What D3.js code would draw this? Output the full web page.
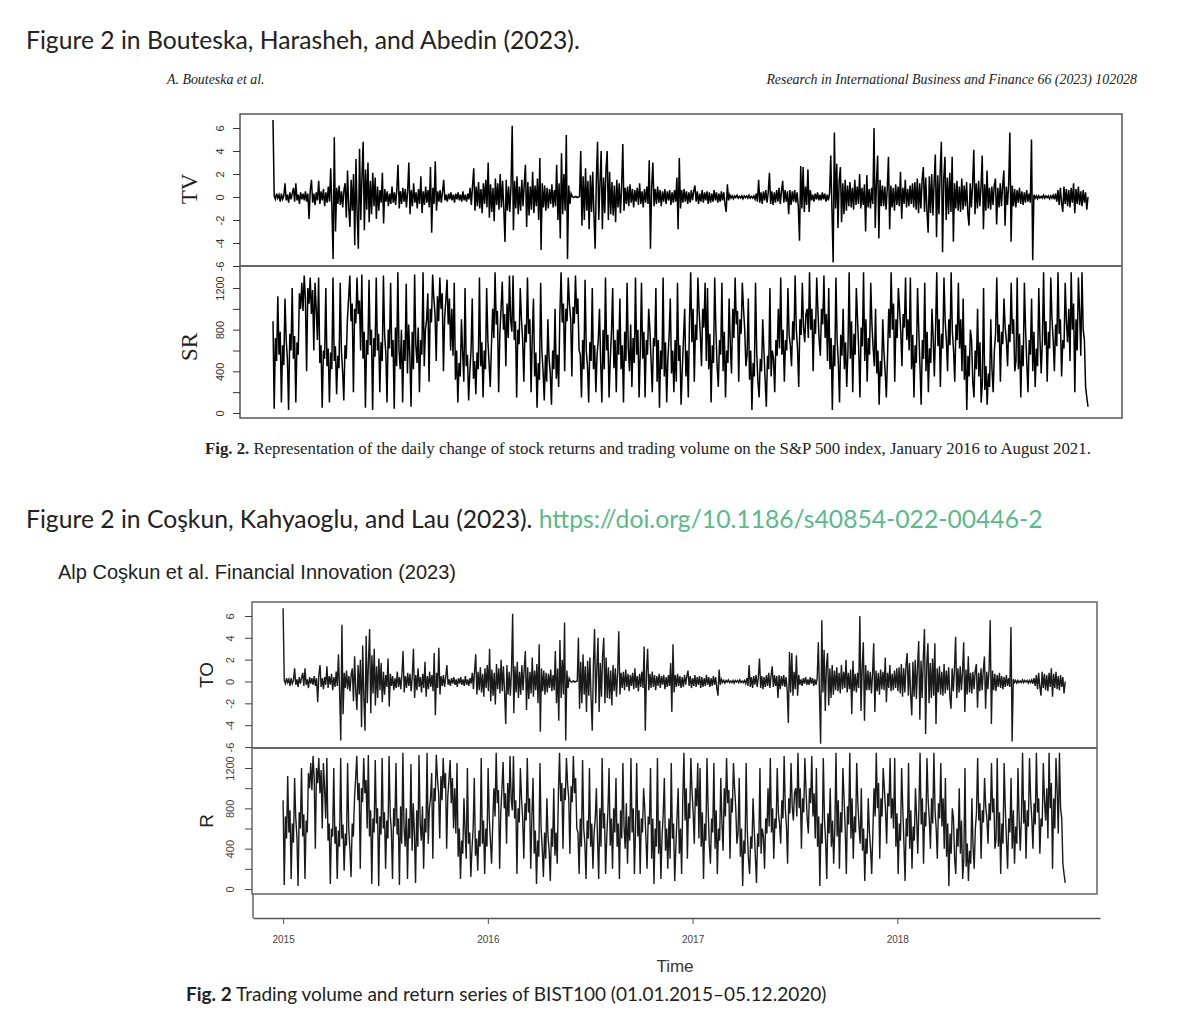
<!DOCTYPE html>
<html>
<head>
<meta charset="utf-8">
<script src="https://cdn.jsdelivr.net/npm/d3@7"></script>
<style>
  body { margin: 0; background: #fff; }
</style>
</head>
<body>
<script>
// daily change in trading volume (the same series appears in both figures)
const tvValues = [
  6.7, 0.1, -0.2, 0.3, -0.1, 0.2, -0.4, 0.3, -0.2, 0.1, 1.2, -0.3, 0.2, -0.5, 0.4, -0.2, 0.3, 0.8, -0.4, 1.2,
  -0.3, 0.2, -0.6, 0.4, -0.2, 0.3, -0.3, 0.5,
  -0.4, 0.3, -1.9, 0.6, 1.5, -0.5, 0.3, -0.7, 0.4, -0.3, 1.4, -0.6, 0.5, -0.3, 0.7, -0.8, 0.4, -0.5, 0.9, -0.4,
  2.5, -1.0, -5.4, 5.2, -3.0, 0.8, -0.6, 1.0, -0.7, 0.5, -0.9, 0.6,
  1.2, -1.8, 2.3, -0.9, -2.6, 1.5, -1.2, 2.0, -4.2, 3.3, -1.5, -4.5, 4.2, -2.0, 1.8, 4.8, -2.9, 2.4, -1.1, 3.0,
  -2.2, 1.4, -1.5, 2.1, -0.8, 1.7, -1.9, 0.9, -1.2,
  0.6, -0.5, 2.1, -2.3, 0.7, -0.4, 0.5, -0.8, 0.3, -0.6, 0.9, -0.5, 0.4, -0.7, 0.6, 2.8, -1.0, 0.5, -0.6, 0.8,
  -0.4, 0.7, -0.9, 0.5, 3.0, -1.5, 0.6, -0.8, 1.2, -0.5, 0.4, -1.0, 0.7, -0.6, 1.8, -1.4, 0.5, -0.7, 0.9, -0.5,
  0.6, -0.9, 2.6, -3.1, 0.8, -0.6, 3.1, -1.2, 0.5, -0.4, 0.6, -0.5, 0.4, 1.5,
  -0.3, 0.2, -0.4, 0.3, -0.2, 0.4, -0.3, 0.2, -0.5, 0.3, -0.2, 0.4, -0.3, 0.2, -0.4, 0.5, -0.3, 0.2, -0.4, 0.3, -0.2,
  0.8, -0.7, 1.0, 2.5, -1.2, 0.9, -0.8, 1.3, -1.0, 0.7, -1.4, 1.2, -0.6, 1.5, -0.9, 3.0, -1.8, 1.1, -1.3, 0.8,
  -2.1, 1.6, -0.7, 1.2, -1.1, 2.0, -0.9, 1.4, -1.0, -3.9, 1.5, -1.2, 0.9, -1.3, 1.0,
  6.2, -2.9, 1.4, -1.0, 1.8, -1.5, 0.9,
  -1.2, 1.5, -0.8, 1.1, 2.8, -2.6, 1.3, -1.6, 0.9, -1.1, 2.2, -1.4, 1.0, -0.8, 1.6, -2.0, 3.4, -4.6, 1.2, -0.9,
  1.0, -1.2, 0.8, -1.0, 0.7, -0.6, 1.1, -0.9, 0.6, -0.8,
  2.8, -2.0, 1.2, -3.6, 3.8, -1.5, 2.0, -1.2, 5.4, -5.4, 1.0, -0.6, 0.3,
  0.05, -0.05, 0.0, 0.05, -0.05, 0.0, 0.05,
  4.0, -2.5, 1.8, -2.0, 2.5, -1.2, 1.4, -2.8, 1.9, -1.3, 2.2, -1.6, -4.5, 1.5, 4.8, -2.0, 1.2, 4.0, -2.8, 1.7,
  -1.4, 2.4, 4.0, -2.0, 2.2, -1.5, 1.3, -1.6, 1.0, -2.2, 1.5, -0.9, 1.2, -1.4, 0.8, 4.6, -1.2,
  0.8, -0.6, 0.9, -0.8, 1.1, -0.5, 0.7, -0.9, 0.6, -0.4, 0.8, -0.7, 1.2, -0.6, 0.5, -0.9, 0.7, -0.5, 0.9, -0.6,
  3.2, -4.5, 0.8, 3.0, -0.8, 0.7, -0.6, 0.9, -0.5, 0.6, -0.8, 0.5, -0.4, 0.7, -0.6, 0.5, -0.3, 0.6, -0.7, 0.4,
  -0.5, 0.6, -0.4, 1.7, -2.8, 3.4,
  -1.0, 0.6, -0.5, 0.7, -0.4, 0.5, -0.6, 0.4, -0.5, 0.6, -0.3, 0.5, 1.0, -0.4, 0.5, -0.6, 0.3, -0.4, 0.6, -0.5,
  0.4, -0.3, 0.5, -0.6, 0.4, -0.5, 0.3, -0.4, 0.6, -0.3, 0.4, -0.5, 0.3, -0.4, 0.5, -0.3, 0.4, -0.6, -1.3, 1.1,
  -0.3, 0.2,
  -0.1, 0.1, -0.15, 0.1, -0.05, 0.15, -0.1, 0.05, -0.1, 0.1, -0.15, 0.1, -0.05, 0.1, -0.1, 0.15, -0.1, 0.05, -0.1, 0.1, -0.2,
  0.3, -0.4, 1.5, -0.5, 0.4, -0.6, 0.5, -0.3, 0.6, -0.5, 0.4, 2.1, -0.6, 0.5, -0.7, 0.4, -0.5, 0.6, -0.4, 0.8,
  -0.6, 0.5, 1.4, -0.5, 0.6, -0.4, 0.5, -1.5, 0.6, -0.7, 0.5, -0.4, 0.6, -0.5, 0.4,
  -0.8, -3.8, 2.7, -1.0, 2.6, -1.3, 0.9, -0.7, 2.4, -1.3, 0.6,
  -0.3, 0.2, -0.4, 0.3, -0.2, 0.4, -0.3, 0.2, -0.3, 0.4, -0.2, 0.3, -0.4, 0.2, -0.3, 0.3,
  3.6, -1.2, -5.7, 5.6, -1.0,
  2.9, -2.7, 1.4, 2.6, -2.2, 1.2, -1.5, 1.5, -1.2, 1.0, -0.8, 1.3, -0.9, 0.8, -1.1, 1.5, -0.7, 0.9, -0.6, 2.0,
  -1.0, 0.8, -0.7, 1.1, -3.0, 1.9, -0.9, 0.7, -1.0, 0.8, -0.6,
  6.0, -2.7, 1.2, 3.6, -3.6, 1.5, -0.8,
  1.0, -0.8, 0.9, -1.1, 0.7, 3.5, -2.8, 1.0, -0.9, 0.8, -1.2, 1.1, -0.7, 0.9, -0.8, 2.2, -1.9, 0.8, -0.6, 1.5,
  -0.9, 0.7, -0.8, 1.0, -0.6, 1.2, -0.9,
  1.3, -1.1, 1.6, -1.4, 1.2, -1.0, 1.5, 2.6, -1.3, 1.7, -1.2, -3.1, 1.8, -1.4, 2.0, -1.6, 1.3, 3.7, -3.5, 1.9,
  -1.5, 2.2, 4.8, -4.8, 1.6, 3.5, -2.0, 1.7, -1.5, 2.1, -1.3, 3.5, -3.9,
  1.2, -1.0, 1.4, -1.2, 0.9, -1.3, 1.6, -1.1, 1.0, -0.8, 1.3, -1.4, -2.5, 1.2, -0.9, 1.1, 4.1, -1.5, 1.2, -1.0,
  1.4, -0.8, 0.9, 3.6, -2.8, 1.1, -1.2, 2.3,
  -1.0, 0.8, -1.1, 0.9, -0.7, 1.0, 1.6, -2.4, 0.8, -0.9, 1.2, -0.8, 1.0, 2.3, -2.5, 0.9, -0.7, 1.1,
  5.6, -3.9, 1.0,
  -0.8, 0.7, -0.9, 0.6, -0.5, 0.8, -0.6, 0.5, -0.7, 0.4, -0.5, 0.6, -0.4, 0.3, -0.5,
  5.0, -5.5, 0.2,
  -0.1, 0.1, -0.15, 0.1, -0.1, 0.05, -0.1, 0.15, -0.1, 0.1, -0.05, 0.1, -0.15, 0.1, -0.1, 0.15, -0.2, 0.3, -0.4,
  0.6, -0.7, 0.8, -0.5, -1.3, 0.9, -0.6, 0.7, -0.8, 0.6, -0.9, 0.8, -0.5, 1.2, -1.4, 0.7, -0.6, 0.9, -0.7, 0.5,
  -0.8, 0.6, -0.5, 0.4, -1.1, 0.0
];

// stock return series
const srValues = [
  880, 40, 720, 500, 1120, 560, 780, 100, 650, 460, 1100, 700, 520, 30, 760, 600,
  1200, 520, 740, 100, 680, 560, 1150,
  1000, 1250, 980, 1320, 1100, 400, 1200, 1050, 1300, 950, 1180, 600, 1250, 1000,
  700, 1300, 480, 650, 50, 600, 520, 1200,
  450, 620, 100, 580, 420, 1300, 500, 640, 180, 550, 430, 1250, 600, 400, 120, 650, 520,
  900, 1100, 1320, 880, 1050, 200, 1000, 860, 1300, 950, 1080,
  600, 1330, 520, 780, 50, 700, 560, 1280, 650, 800, 30, 720, 540, 1300, 600, 760, 200, 680, 500, 1320,
  740, 580, 100, 800, 620, 1250, 540,
  700, 40, 820, 450, 1350, 600, 420, 800, 100, 700, 500, 1240, 380, 850, 550, 60, 780, 420, 1330, 650,
  480, 820, 200, 700, 560, 1350, 450, 800,
  900, 1150, 300, 1000, 870, 1330, 1100, 950, 500, 1120, 880, 1300, 1000, 1150, 400, 920, 1080, 1280, 850, 1100,
  600, 1000,
  550, 1250, 320, 600, 100, 480, 350, 900, 580, 300, 1200, 450, 560, 120, 400, 600, 1100, 330, 500, 180,
  580, 420,
  1300, 450, 680, 150, 600, 420, 1200, 700, 480, 250, 650,
  1000, 720, 1350, 850, 980, 200, 760, 1000, 1260, 800, 950, 450, 1050, 720, 1320, 900, 780,
  1320, 700, 880, 150, 800, 660, 1200, 900, 700, 300, 850, 680, 1300, 760, 900, 200, 720,
  1100, 350, 580, 50, 480, 320, 1250, 600, 400, 120, 560, 300, 900, 520, 380, 80, 600, 420, 1000, 330,
  560, 250,
  950, 1350, 870, 1050, 400, 1000, 880, 1300, 1040, 900, 350, 1020, 860, 1320, 950, 1100, 600,
  560, 150, 700, 420, 1280, 600, 450, 100, 680, 500, 1200, 420, 650, 200, 560, 700, 1000,
  480, 100, 800, 420, 1300, 600, 750, 150, 520, 780, 1200, 430, 700, 200, 800, 560, 1100, 420, 650, 100,
  780, 500, 1250, 620, 400, 850, 250, 720, 480, 1300, 560, 800, 150,
  600, 1250, 520, 780, 150, 700, 560, 1000, 800, 500, 200, 720, 640, 1200,
  300, 700, 50, 600, 420, 1300, 350, 680, 100, 520, 740, 1100, 380, 600, 200, 700, 300, 1250, 500, 650,
  80, 420, 720, 1000, 350, 600, 150,
  900, 1350, 680, 1000, 300, 850, 700, 1300, 980, 760, 450, 1000, 820, 1250,
  500, 1200, 420, 760, 100, 650, 480, 1300, 800, 450, 250, 700, 560, 1250, 400, 780, 150, 600, 480, 1100,
  650, 380,
  1000, 720, 1300, 850, 980, 300, 900, 760, 1250, 1000, 800, 450,
  560, 1100, 320, 600, 30, 480, 350, 1250, 580, 300, 150, 520, 400, 900, 600, 320, 60, 550, 420, 1200,
  350, 600,
  520, 200, 700, 550, 1000, 620, 1300, 560, 800, 300, 700, 600, 1200, 750, 650, 450, 880, 700, 1320, 800,
  620, 250, 900, 750, 1250, 820, 680, 950,
  1000, 720, 1350, 800, 1000, 400, 900, 760, 1300, 980, 700, 550, 1000, 850, 1320, 720, 950,
  500, 1200, 420, 720, 30, 650, 450, 1300, 700, 480, 100, 750, 550, 1000, 420, 680, 250,
  600, 1350, 520, 880, 200, 760, 560, 1200, 900, 600, 150, 820, 640, 1350, 500, 900, 300, 720, 560, 1250,
  850, 620,
  450, 1000, 380, 600, 80, 500, 350, 900, 580, 400, 150, 550,
  1000, 720, 1350, 800, 1050, 300, 900, 720, 1200, 1000, 780, 450, 950, 820, 1300, 700, 900,
  600, 1300, 420, 750, 150, 650, 480, 1200, 800, 450, 80, 700, 520, 1250, 400, 780, 200, 620, 480, 1000,
  720, 350,
  800, 1350, 640, 900, 250, 760, 620, 1300, 880, 700, 400, 900, 650, 1350, 780, 600, 300, 850, 700, 1250,
  620, 900,
  400, 1100, 320, 650, 30, 550, 350, 800, 700, 300, 150, 600, 420, 1000, 350, 680, 100,
  300, 1200, 220, 450, 80, 380, 250, 900, 420, 200, 600,
  760, 1300, 680, 850, 300, 780, 660, 1100, 820, 700, 450, 850, 680, 1250, 760, 900, 400,
  500, 1300, 420, 760, 150, 650, 450, 1250, 800, 480, 200, 700, 560, 1100, 400, 780, 250, 620, 450, 1200,
  700, 380,
  700, 1350, 650, 880, 300, 780, 620, 1300, 900, 700, 400, 850, 640, 1350, 760, 900, 350, 700, 620, 1250,
  880, 680,
  1000, 500, 1350, 800, 1050, 200, 900, 600, 1300, 980, 550, 1350, 800,
  700, 250, 150, 60
];

const tvTicks = [-6, -4, -2, 0, 2, 4, 6];
const srTicks = [0, 200, 400, 600, 800, 1000, 1200];
const srLabelled = [0, 400, 800, 1200];
const yearTicks = [2015, 2016, 2017, 2018];
const seriesStart = 2015.0;
const seriesEnd = 2018.82;
const axisStart = 2014.853;
const axisEnd = 2018.99;

const width = 1200;
const height = 1021;

const svg = d3.select('body')
    .append('svg')
    .attr('width', width)
    .attr('height', height);

const drawSeries = (g, values, range, y, color, strokeWidth) => {
    const x = d3.scaleLinear().domain([0, values.length - 1]).range(range);
    g.append('path')
        .datum(values)
        .attr('fill', 'none')
        .attr('stroke', color)
        .attr('stroke-width', strokeWidth)
        .attr('d', d3.line().x((d, i) => x(i)).y(d => y(d)));
};

const drawYAxis = (g, y, ticks, labelled, left, labelGap, fontSize, color) => {
    const axis = g.append('g')
        .attr('transform', `translate(${left},0)`)
        .call(d3.axisLeft(y)
            .tickValues(ticks)
            .tickSize(7)
            .tickFormat(d => labelled.includes(d) ? d : ''));
    axis.select('.domain').remove();
    axis.selectAll('line').attr('stroke', color);
    axis.selectAll('text')
        .attr('transform', 'rotate(-90)')
        .attr('x', 0)
        .attr('y', -labelGap)
        .attr('dy', 0)
        .attr('text-anchor', 'middle')
        .attr('fill', color)
        .style('font-family', '"Liberation Sans", Arial, sans-serif')
        .style('font-size', fontSize + 'px');
};

const yLabel = (g, text, x, y, font, size) => {
    g.append('text')
        .attr('transform', `translate(${x},${y}) rotate(-90)`)
        .attr('text-anchor', 'middle')
        .style('font-family', font)
        .style('font-size', size + 'px')
        .attr('fill', '#222')
        .text(text);
};

// ---------- Figure 1 ----------
svg.append('text')
    .attr('x', 26)
    .attr('y', 49)
    .style('font-family', 'Lato, sans-serif')
    .style('font-size', '24.7px')
    .attr('fill', '#222')
    .text('Figure 2 in Bouteska, Harasheh, and Abedin (2023).');

svg.append('text')
    .attr('x', 167)
    .attr('y', 84)
    .style('font-family', '"Liberation Serif", serif')
    .style('font-style', 'italic')
    .style('font-size', '13.9px')
    .attr('fill', '#222')
    .text('A. Bouteska et al.');

svg.append('text')
    .attr('x', 1137)
    .attr('y', 84)
    .attr('text-anchor', 'end')
    .style('font-family', '"Liberation Serif", serif')
    .style('font-style', 'italic')
    .style('font-size', '13.9px')
    .attr('fill', '#222')
    .text('Research in International Business and Finance 66 (2023) 102028');

const f1 = svg.append('g');
const f1tv = d3.scaleLinear().domain([-6, 6]).range([266, 128]);
const f1sr = d3.scaleLinear().domain([0, 1200]).range([413, 288]);

drawSeries(f1, tvValues, [273, 1088], f1tv, '#000', 1.5);
drawSeries(f1, srValues, [273, 1088], f1sr, '#000', 1.5);

f1.append('rect')
    .attr('x', 240).attr('y', 114)
    .attr('width', 882).attr('height', 304)
    .attr('fill', 'none')
    .attr('stroke', '#555')
    .attr('stroke-width', 1.5);
f1.append('line')
    .attr('x1', 240).attr('x2', 1122)
    .attr('y1', 266).attr('y2', 266)
    .attr('stroke', '#666')
    .attr('stroke-width', 2);

drawYAxis(f1, f1tv, tvTicks, tvTicks, 240, 16, 11, '#333');
drawYAxis(f1, f1sr, srTicks, srLabelled, 240, 16, 11, '#333');
yLabel(f1, 'TV', 197, 189, '"Liberation Serif", serif', 23);
yLabel(f1, 'SR', 197, 347, '"Liberation Serif", serif', 23);

const cap1 = svg.append('text')
    .attr('x', 205)
    .attr('y', 454)
    .style('font-family', '"Liberation Serif", serif')
    .style('font-size', '16.8px')
    .attr('fill', '#222');
cap1.append('tspan').style('font-weight', 'bold').text('Fig. 2.');
cap1.append('tspan').text('  Representation of the daily change of stock returns and trading volume on the S&P 500 index, January 2016 to August 2021.');

// ---------- Figure 2 ----------
const t2 = svg.append('text')
    .attr('x', 26)
    .attr('y', 528)
    .style('font-family', 'Lato, sans-serif')
    .style('font-size', '24.7px')
    .attr('fill', '#222');
t2.append('tspan').text('Figure 2 in Coşkun, Kahyaoglu, and Lau (2023). ');
t2.append('tspan').attr('fill', '#5bb98c').text('https://doi.org/10.1186/s40854-022-00446-2');

svg.append('text')
    .attr('x', 58)
    .attr('y', 579)
    .style('font-family', '"Liberation Sans", Arial, sans-serif')
    .style('font-size', '20px')
    .attr('fill', '#222')
    .text('Alp Coşkun et al. Financial Innovation (2023)');

const f2 = svg.append('g');
const time = d3.scaleLinear().domain([axisStart, axisEnd]).range([253, 1100]);
const f2to = d3.scaleLinear().domain([-6, 6]).range([747, 616]);
const f2r = d3.scaleLinear().domain([0, 1200]).range([889, 768]);
const f2range = [time(seriesStart), time(seriesEnd)];

drawSeries(f2, tvValues, f2range, f2to, '#1a1a1a', 1.4);
drawSeries(f2, srValues, f2range, f2r, '#1a1a1a', 1.4);

f2.append('rect')
    .attr('x', 252).attr('y', 602)
    .attr('width', 845).attr('height', 292)
    .attr('fill', 'none')
    .attr('stroke', '#666')
    .attr('stroke-width', 1.5);
f2.append('line')
    .attr('x1', 252).attr('x2', 1097)
    .attr('y1', 748).attr('y2', 748)
    .attr('stroke', '#666')
    .attr('stroke-width', 2);

drawYAxis(f2, f2to, tvTicks, tvTicks, 252, 18, 11, '#444');
drawYAxis(f2, f2r, srTicks, srLabelled, 252, 18, 11, '#444');
yLabel(f2, 'TO', 213, 675, '"Liberation Sans", Arial, sans-serif', 19);
yLabel(f2, 'R', 213, 821, '"Liberation Sans", Arial, sans-serif', 19);

// time axis below the panels
f2.append('line')
    .attr('x1', 253).attr('x2', 253)
    .attr('y1', 894).attr('y2', 918)
    .attr('stroke', '#666')
    .attr('stroke-width', 1.5);
const xAxis = f2.append('g')
    .attr('transform', 'translate(0,918)')
    .call(d3.axisBottom(time)
        .tickValues(yearTicks)
        .tickSize(6)
        .tickSizeOuter(0)
        .tickFormat(d3.format('d')));
xAxis.select('.domain').attr('stroke', '#555').attr('stroke-width', 1.5);
xAxis.selectAll('line').attr('stroke', '#555');
xAxis.selectAll('text')
    .attr('y', 18)
    .attr('fill', '#444')
    .style('font-family', '"Liberation Sans", Arial, sans-serif')
    .style('font-size', '10px');

svg.append('text')
    .attr('x', 675)
    .attr('y', 972)
    .attr('text-anchor', 'middle')
    .style('font-family', '"Liberation Sans", Arial, sans-serif')
    .style('font-size', '17px')
    .attr('fill', '#333')
    .text('Time');

const cap2 = svg.append('text')
    .attr('x', 186)
    .attr('y', 1001)
    .style('font-family', 'Lato, sans-serif')
    .style('font-size', '19px')
    .attr('fill', '#222');
cap2.append('tspan').style('font-weight', 'bold').text('Fig. 2');
cap2.append('tspan').text('  Trading volume and return series of BIST100 (01.01.2015–05.12.2020)');
</script>
</body>
</html>
